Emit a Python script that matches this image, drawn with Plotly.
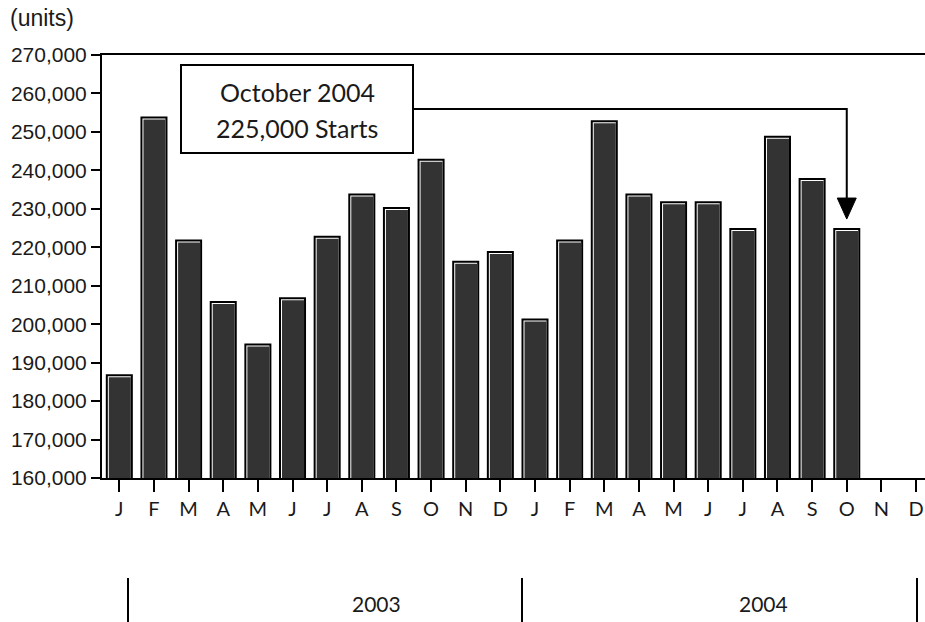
import plotly.graph_objects as go

# ---------------- data ----------------
months = ["J", "F", "M", "A", "M", "J", "J", "A", "S", "O", "N", "D",
          "J", "F", "M", "A", "M", "J", "J", "A", "S", "O", "N", "D"]
starts_2003 = [187000, 254000, 222000, 206000, 195000, 207000,
               223000, 234000, 230500, 243000, 216500, 219000]
starts_2004 = [201500, 222000, 253000, 234000, 232000, 232000,
               225000, 249000, 238000, 225000, None, None]
years = ["2003", "2004"]
y_ticks = list(range(160000, 270001, 10000))
callout_lines = ["October 2004", "225,000 Starts"]
callout_index = 21  # October 2004

values = starts_2003 + starts_2004
x_idx = list(range(len(months)))

# ---------------- geometry helpers ----------------
W, H = 925, 622
L, T = 102, 55
B_AX = 478                     # pixel row of the x axis
PX_Y = (y_ticks[-1] - y_ticks[0]) / (B_AX - T)   # value units per pixel
CAT_PX = 34.64                 # pixels per category
PX_X = 1 / CAT_PX              # category units per pixel
x_max = -0.5 + (W - L) / CAT_PX

def xd(px):   # pixel x -> data x
    return (px - (L + CAT_PX / 2)) / CAT_PX

def yd(py):   # pixel y -> data y
    return y_ticks[-1] - (py - T) * PX_Y

def yp(py):   # pixel y -> paper y
    return (B_AX - py) / (B_AX - T)

BW = 0.78
fig = go.Figure()
xs = [i for i, v in zip(x_idx, values) if v is not None]
vs = [v for v in values if v is not None]
# black outline
fig.add_trace(go.Bar(x=xs, y=vs, width=BW, offset=-BW / 2,
                     marker=dict(color="#000000", line=dict(width=0)),
                     hoverinfo="skip", showlegend=False))
# white highlight
fig.add_trace(go.Bar(x=xs, y=[v - 2 * PX_Y for v in vs], width=BW - 4 * PX_X,
                     offset=-BW / 2 + 2 * PX_X,
                     marker=dict(color="#ffffff", line=dict(width=0)),
                     hoverinfo="skip", showlegend=False))
# dark fill
fig.add_trace(go.Bar(x=xs, y=[v - 3 * PX_Y for v in vs], width=BW - 5 * PX_X,
                     offset=-BW / 2 + 3 * PX_X,
                     marker=dict(color="#333333", line=dict(width=0)),
                     showlegend=False))

shapes = []
# callout box
shapes.append(dict(type="rect", xref="x", yref="y",
                   x0=xd(181), x1=xd(413), y0=yd(65), y1=yd(153),
                   line=dict(color="black", width=2), fillcolor="white"))
# connector line
tip_y = values[callout_index] + 9 * PX_Y
line_y = yd(109)
shapes.append(dict(type="path", xref="x", yref="y",
                   path=f"M {xd(413)},{line_y} L {callout_index},{line_y} L {callout_index},{tip_y + 16 * PX_Y}",
                   line=dict(color="black", width=2)))
# arrow head
shapes.append(dict(type="path", xref="x", yref="y",
                   path=(f"M {callout_index - 9.5 * PX_X},{tip_y + 21 * PX_Y} "
                         f"L {callout_index + 9.5 * PX_X},{tip_y + 21 * PX_Y} "
                         f"L {callout_index},{tip_y} Z"),
                   fillcolor="black", line=dict(color="black", width=1)))
# year separators
for px in [128, 522, 917]:
    shapes.append(dict(type="line", xref="paper", yref="paper",
                       x0=(px - L) / (W - L), x1=(px - L) / (W - L),
                       y0=yp(578), y1=yp(630),
                       line=dict(color="black", width=2)))

annotations = []
for txt, py in zip(callout_lines, [91.7, 128.3]):
    annotations.append(dict(x=xd(297), y=yd(py), xref="x", yref="y",
                            text=txt, showarrow=False,
                            font=dict(family="Lato", size=25, color="#1a1a1a"),
                            xanchor="center", yanchor="middle"))
annotations.append(dict(x=(8 - L) / (W - L), y=yp(18), xref="paper", yref="paper",
                        text="(units)", showarrow=False, xanchor="left", yanchor="middle",
                        font=dict(family="Liberation Sans", size=23, color="#1a1a1a")))
for yr, px in zip(years, [376, 763]):
    annotations.append(dict(x=(px - L) / (W - L), y=yp(603), xref="paper", yref="paper",
                            text=yr, showarrow=False, xanchor="center", yanchor="middle",
                            font=dict(family="Lato", size=21, color="#1a1a1a")))

fig.update_layout(
    width=W, height=H,
    margin=dict(l=L, r=0, t=T, b=H - B_AX, pad=0),
    barmode="overlay",
    plot_bgcolor="white", paper_bgcolor="white",
    shapes=shapes, annotations=annotations,
    xaxis=dict(range=[-0.5, x_max], tickmode="array", tickvals=x_idx, ticktext=months,
               ticks="outside", ticklen=12, tickwidth=2, tickcolor="black",
               showline=True, linewidth=2, linecolor="black", mirror=True,
               showgrid=False, zeroline=False, automargin=False,
               tickfont=dict(family="Lato", size=20, color="#1a1a1a")),
    yaxis=dict(range=[y_ticks[0], y_ticks[-1]], tickmode="array", tickvals=y_ticks,
               ticktext=[f"{v:,}" for v in y_ticks],
               ticks="outside", ticklen=9, tickwidth=2, tickcolor="black",
               showline=True, linewidth=2, linecolor="black",
               showgrid=False, zeroline=False, automargin=False,
               tickfont=dict(family="Liberation Sans", size=21, color="#1a1a1a")),
)

fig.write_html("out.html", config={"displayModeBar": False},
               post_script="document.body.style.margin='0';document.body.style.overflow='hidden';")
